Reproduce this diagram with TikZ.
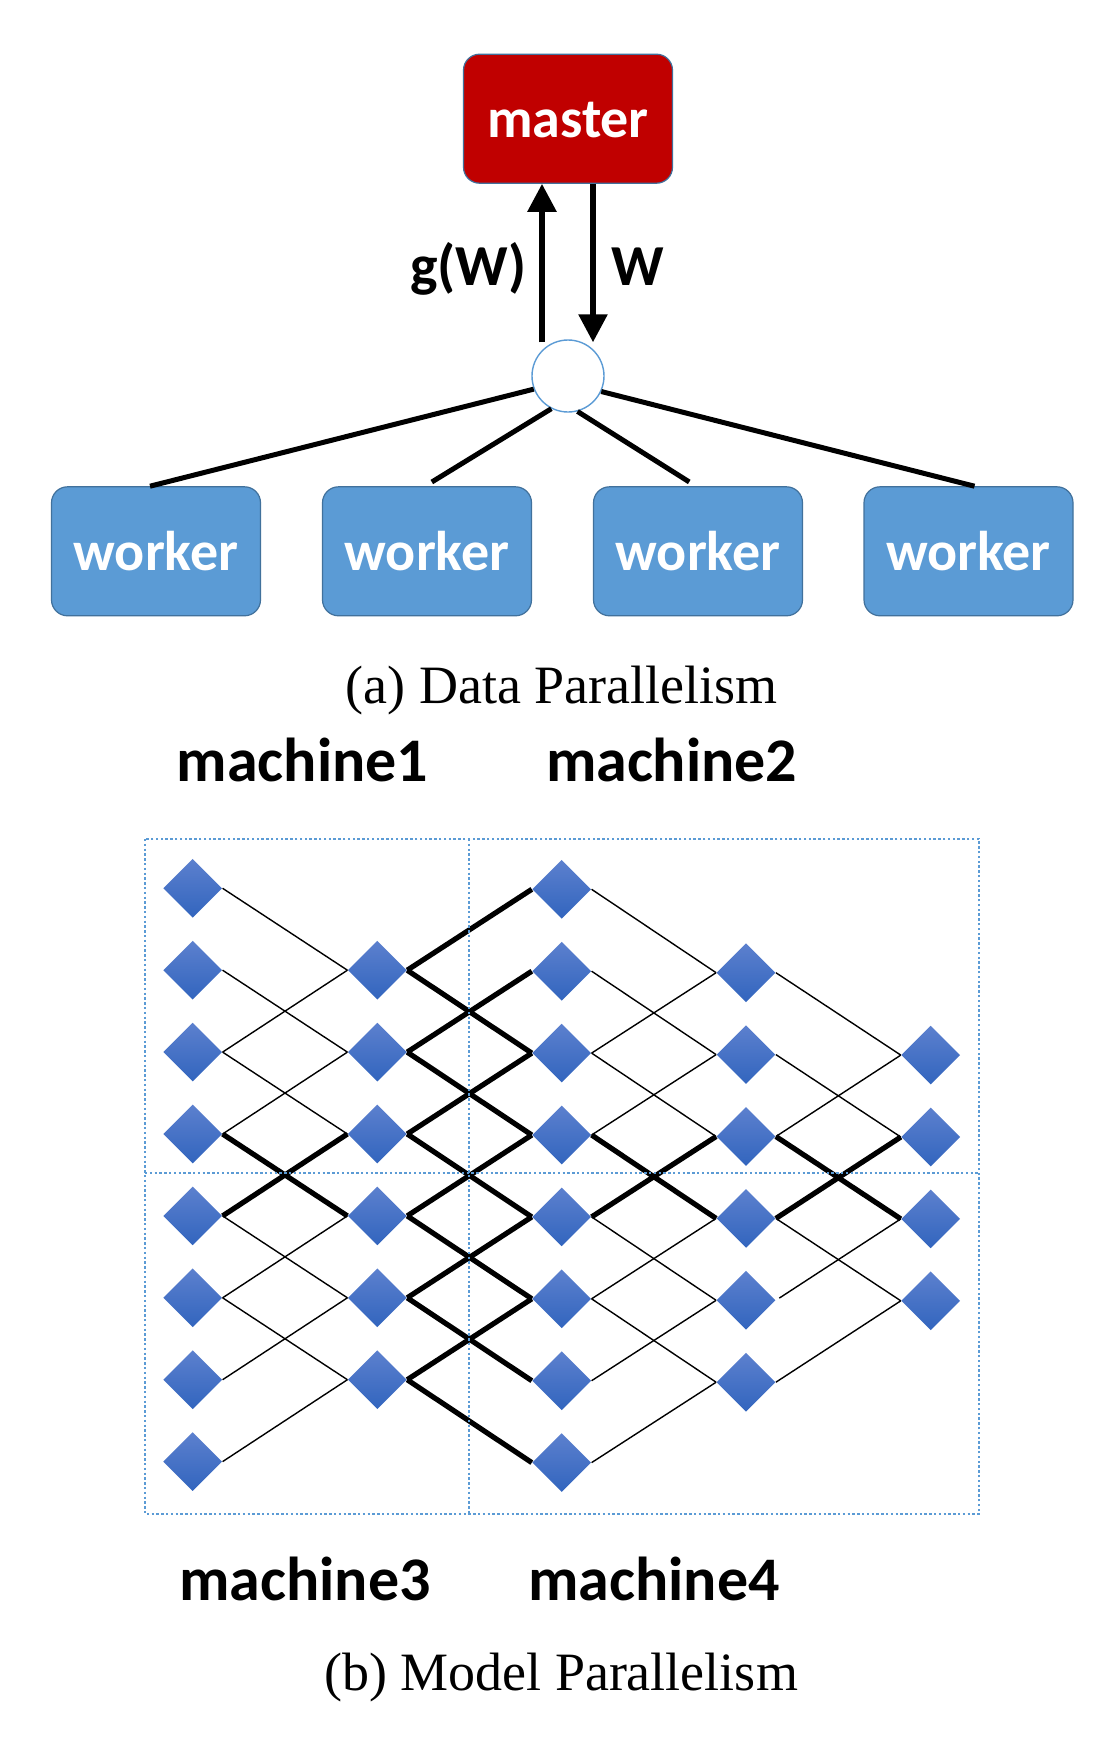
\documentclass[tikz,border=0pt]{standalone}
\usepackage{fontspec}
\setmainfont{Liberation Serif}
\newfontfamily\calib{Carlito}
\usetikzlibrary{arrows.meta,calc,shapes.geometric}
\definecolor{masterred}{RGB}{192,0,0}
\definecolor{workerblue}{RGB}{91,155,213}
\definecolor{boxedge}{RGB}{65,113,156}
\definecolor{dotblue}{RGB}{91,155,213}
\definecolor{dtop}{RGB}{92,128,206}
\definecolor{dbot}{RGB}{50,101,190}
\begin{document}
\begin{tikzpicture}[x=0.5pt,y=-0.5pt,
 box/.style={rectangle,rounded corners=8pt,minimum width=104.5pt,minimum height=64.5pt,inner sep=0pt,draw=boxedge,line width=0.6pt,text=white,font=\calib\bfseries\fontsize{28pt}{30pt}\selectfont,text depth=0pt},
 masterbox/.style={box,fill=masterred,text height=18.6pt},
 workerbox/.style={box,fill=workerblue,text height=19.4pt},
 hubnode/.style={circle,minimum size=36pt,inner sep=0pt,draw=dotblue,line width=0.7pt,fill=white},
 link/.style={line width=2.5pt},
 arr/.style={line width=2.8pt,-{Triangle[width=14pt,length=14pt]}},
 lbl/.style={font=\calib\bfseries\fontsize{29pt}{31pt}\selectfont,inner sep=0pt},
 mlbl/.style={font=\calib\bfseries\fontsize{31pt}{33pt}\selectfont,inner sep=0pt,anchor=base},
 captext/.style={font=\fontsize{27pt}{29pt}\selectfont,inner sep=0pt,anchor=base},
 neuron/.style={diamond,minimum width=29.5pt,minimum height=29.5pt,inner sep=0pt,top color=dtop,bottom color=dbot,draw=none},
 thinedge/.style={draw=black,line width=0.7pt},
 thickedge/.style={draw=black,line width=2.6pt},
 sepline/.style={draw=dotblue,line width=1.2pt,dash pattern=on 1.2pt off 1.2pt}]
\fill[white] (0,0) rectangle (1098,1750);
\useasboundingbox (0,0) rectangle (1098,1750);

% ---- (a) data parallelism ----
\node[masterbox] (master) at (568,118.7) {master};
\node[hubnode] (hub) at (568,376) {};
\node[workerbox] (w1) at (156,551.3) {worker};
\node[workerbox] (w2) at (427,551.3) {worker};
\node[workerbox] (w3) at (698,551.3) {worker};
\node[workerbox] (w4) at (968.5,551.3) {worker};

\draw[arr] ($(hub.north)+(-26,3)$) -- ($(master.south)+(-26,0)$);
\draw[arr] ($(master.south)+(25,0)$) -- ($(hub.north)+(25,3)$);
\node[lbl,anchor=base east] (gw) at (527,285) {g(W)};
\node[lbl,anchor=base west] (wl) at (611,285) {W};

\draw[link] (hub.-159) -- ([xshift=-3pt]w1.north);
\draw[link,shorten >=4pt] (hub.-117) -- ([xshift=-1pt]w2.north);
\draw[link,shorten >=4pt] (hub.-75) -- ([xshift=-1pt]w3.north);
\draw[link] (hub.-25) -- ([xshift=3pt]w4.north);

\node[captext] (capa) at (561.5,703.3) {(a) Data Parallelism};

% ---- (b) model parallelism ----
\node[mlbl] (m1) at (302.5,781.7) {machine1};
\node[mlbl] (m2) at (671.7,781.7) {machine2};
\node[mlbl] (m3) at (305,1600) {machine3};
\node[mlbl] (m4) at (654,1600) {machine4};
\node[captext] (capb) at (561,1690) {(b) Model Parallelism};

\foreach \c/\x/\rlo/\rhi/\dy in {1/192.7/1/8/0, 2/377.3/2/7/0, 3/561.7/1/8/1, 4/746/2/7/2.5, 5/930.7/3/6/3}
  \foreach \r in {\rlo,...,\rhi}
    \node[neuron] (n\c-\r) at (\x,{888.3+(\r-1)*81.9+\dy}) {};

\foreach \a/\b in {1/2,2/3,3/2,3/4,4/3,5/6,6/5,6/7,7/6,8/7} {
  \path[thinedge] (n1-\a.east) -- (n2-\b.west);
  \path[thinedge] (n3-\a.east) -- (n4-\b.west);
}
\foreach \a/\b in {4/5,5/4} {
  \path[thickedge] (n1-\a.east) -- (n2-\b.west);
  \path[thickedge] (n3-\a.east) -- (n4-\b.west);
  \path[thickedge] (n4-\a.east) -- (n5-\b.west);
}
\foreach \a/\b in {2/1,2/3,3/2,3/4,4/3,4/5,5/4,5/6,6/5,6/7,7/6,7/8}
  \path[thickedge] (n2-\a.east) -- (n3-\b.west);
\foreach \a/\b in {2/3,3/4,4/3,5/6,7/6}
  \path[thinedge] (n4-\a.east) -- (n5-\b.west);
\path[thinedge,shorten <=2pt] (n4-6.east) -- (n5-5.west);

\draw[sepline] (145,839) rectangle (979,1514);
\draw[sepline] (469,839) -- (469,1514);
\draw[sepline] (145,1173) -- (979,1173);
\end{tikzpicture}
\end{document}
